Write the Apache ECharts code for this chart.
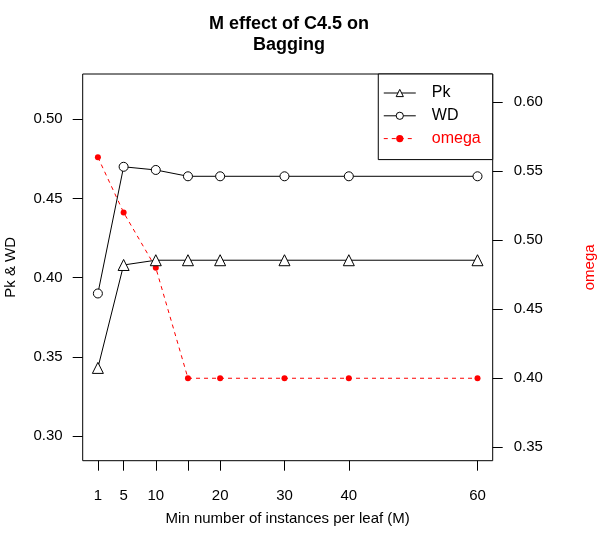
<!DOCTYPE html>
<html>
<head>
<meta charset="utf-8">
<script src="https://cdn.jsdelivr.net/npm/echarts@6/dist/echarts.min.js"></script>
<style>
  html, body { margin: 0; padding: 0; background: #fff; }
  #chart { width: 598px; height: 540px; }
</style>
</head>
<body>
<div id="chart"></div>
<script>
// M values on the x axis
const mValues = [1, 5, 10, 15, 20, 30, 40, 60];
const xTickValues = [1, 5, 10, 15, 20, 30, 40, 60];
const xLabelValues = [1, 5, 10, 20, 30, 40, 60];

const pk = [0.343, 0.408, 0.411, 0.411, 0.411, 0.411, 0.411, 0.411];
const wd = [0.390, 0.470, 0.468, 0.464, 0.464, 0.464, 0.464, 0.464];
const omega = [0.56, 0.52, 0.48, 0.40, 0.40, 0.40, 0.40, 0.40];

const leftTicks = [0.30, 0.35, 0.40, 0.45, 0.50];
const rightTicks = [0.35, 0.40, 0.45, 0.50, 0.55, 0.60];

const font = 'Liberation Sans, Arial, Helvetica, sans-serif';
const pairs = (ys) => mValues.map((x, i) => [x, ys[i]]);

const chart = echarts.init(document.getElementById('chart'));
chart.setOption({
  animation: false,
  backgroundColor: '#fff',
  textStyle: { fontFamily: font },
  title: {
    text: 'M effect of C4.5 on\nBagging',
    left: 284, top: 9,
    textAlign: 'center',
    textStyle: { fontFamily: font, fontSize: 18, fontWeight: 'bold', color: '#000', lineHeight: 21 }
  },
  grid: {
    left: 82.7, right: 105.3, top: 74, bottom: 79.3,
    outerBoundsMode: 'none', containLabel: false,
    show: true, borderColor: '#000', borderWidth: 1, backgroundColor: 'transparent'
  },
  legend: {
    orient: 'vertical',
    right: 105.3, top: 74,
    backgroundColor: '#fff',
    borderColor: '#000', borderWidth: 1, borderRadius: 0,
    padding: [11, 12, 13, 5],
    itemWidth: 32, itemHeight: 9, itemGap: 6.8,
    lineStyle: { width: 1 },
    itemStyle: { borderWidth: 1 },
    textStyle: { fontFamily: font, fontSize: 16, color: '#000', padding: [0, 0, 0, 11] },
    data: [
      { name: 'Pk' },
      { name: 'WD' },
      { name: 'omega', textStyle: { color: '#ff0000' } }
    ]
  },
  xAxis: {
    type: 'value',
    min: -1.36, max: 62.36,
    name: 'Min number of instances per leaf (M)',
    nameLocation: 'middle', nameGap: 51,
    nameTextStyle: { fontFamily: font, fontSize: 15, color: '#000' },
    axisLine: { show: false, onZero: false },
    axisTick: { show: true, inside: false, length: 10, customValues: xTickValues, lineStyle: { color: '#000' } },
    axisLabel: { customValues: xLabelValues, margin: 28, fontSize: 15, color: '#000', fontFamily: font },
    splitLine: { show: false }
  },
  yAxis: [
    {
      type: 'value', position: 'left',
      min: 0.2844, max: 0.5286,
      name: 'Pk & WD', nameLocation: 'middle', nameGap: 64, nameRotate: 90,
      nameTextStyle: { fontFamily: font, fontSize: 15, color: '#000' },
      axisLine: { show: false, onZero: false },
      axisTick: { show: true, inside: false, length: 10, customValues: leftTicks, lineStyle: { color: '#000' } },
      axisLabel: {
        customValues: leftTicks, margin: 20, fontSize: 15, color: '#000', fontFamily: font,
        formatter: (v) => v.toFixed(2)
      },
      splitLine: { show: false }
    },
    {
      type: 'value', position: 'right',
      min: 0.3403, max: 0.6203,
      name: 'omega', nameLocation: 'middle', nameGap: 90, nameRotate: 90,
      nameTextStyle: { fontFamily: font, fontSize: 15, color: '#ff0000' },
      axisLine: { show: false, onZero: false },
      axisTick: { show: true, inside: false, length: 10, customValues: rightTicks, lineStyle: { color: '#000' } },
      axisLabel: {
        customValues: rightTicks, margin: 21, fontSize: 15, color: '#000', fontFamily: font,
        formatter: (v) => v.toFixed(2)
      },
      splitLine: { show: false }
    }
  ],
  series: [
    {
      name: 'Pk', type: 'line', yAxisIndex: 0,
      data: pairs(pk),
      symbol: 'triangle', symbolSize: 11,
      itemStyle: { color: '#fff', borderColor: '#000', borderWidth: 1 },
      lineStyle: { color: '#000', width: 1 },
      z: 3
    },
    {
      name: 'WD', type: 'line', yAxisIndex: 0,
      data: pairs(wd),
      symbol: 'circle', symbolSize: 9,
      itemStyle: { color: '#fff', borderColor: '#000', borderWidth: 1 },
      lineStyle: { color: '#000', width: 1 },
      z: 3
    },
    {
      name: 'omega', type: 'line', yAxisIndex: 1,
      data: pairs(omega),
      symbol: 'circle', symbolSize: 6,
      itemStyle: { color: '#ff0000' },
      lineStyle: { color: '#ff0000', width: 1, type: [4, 4] },
      z: 2
    }
  ]
});
</script>
</body>
</html>
